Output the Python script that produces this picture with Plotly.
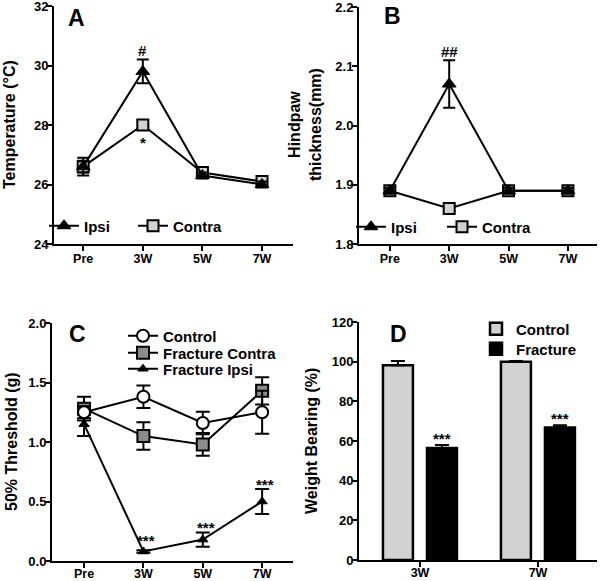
import plotly.graph_objects as go

# ---------------- data ----------------
time_points = ["Pre", "3W", "5W", "7W"]

# Panel A: temperature (°C)
temp_ipsi = [26.6, 29.8, 26.3, 26.0]
temp_ipsi_err = [0.3, 0.4, 0.1, 0.1]
temp_contra = [26.6, 28.0, 26.4, 26.1]
temp_contra_err = [0.2, 0.15, 0.1, 0.1]

# Panel B: hindpaw thickness (mm)
thick_ipsi = [1.89, 2.07, 1.89, 1.89]
thick_ipsi_err = [0.005, 0.04, 0.005, 0.005]
thick_contra = [1.89, 1.86, 1.89, 1.89]
thick_contra_err = [0.005, 0.005, 0.005, 0.005]

# Panel C: 50% threshold (g)
thr_control = [1.25, 1.38, 1.16, 1.25]
thr_control_err = [0.05, 0.095, 0.095, 0.18]
thr_contra = [1.28, 1.05, 0.98, 1.43]
thr_contra_err = [0.1, 0.115, 0.095, 0.115]
thr_ipsi = [1.15, 0.08, 0.18, 0.50]
thr_ipsi_err = [0.1, 0.01, 0.06, 0.105]

# Panel D: weight bearing (%)
wb_weeks = ["3W", "7W"]
wb_control = [98.2, 100.0]
wb_control_err = [2.1, 0.3]
wb_fracture = [56.5, 66.8]
wb_fracture_err = [1.5, 1.2]

# significance marks
sig_A = [("3W", 30.52, "#"), ("3W", 27.4, "*")]
sig_B = [("3W", 2.125, "##")]
sig_C = [("3W", 0.17, "***"), ("5W", 0.28, "***"), ("7W", 0.64, "***")]
sig_D = [("3W", 61.5, "***"), ("7W", 71.5, "***")]

# ---------------- style ----------------
FONT = "Liberation Sans, Arial, sans-serif"
W, H = 600, 581
LIGHT = "#d2d2d2"
MID = "#8c8c8c"


def px_x(p):
    return p / W


def px_y(p):
    return 1 - p / H


fig = go.Figure()

err_style = dict(type="data", color="black", thickness=2, width=6)

# Panel A
fig.add_trace(go.Scatter(
    x=time_points, y=temp_contra, name="Contra", mode="lines+markers",
    line=dict(color="black", width=2),
    marker=dict(symbol="square", size=11, color=LIGHT, line=dict(color="black", width=2)),
    error_y=dict(array=temp_contra_err, **err_style),
    xaxis="x", yaxis="y", legend="legend", legendrank=2))
fig.add_trace(go.Scatter(
    x=time_points, y=temp_ipsi, name="Ipsi", mode="lines+markers",
    line=dict(color="black", width=2),
    marker=dict(symbol="triangle-up", size=12, color="black", line=dict(color="black", width=1)),
    error_y=dict(array=temp_ipsi_err, **err_style),
    xaxis="x", yaxis="y", legend="legend", legendrank=1))

# Panel B
fig.add_trace(go.Scatter(
    x=time_points, y=thick_contra, name="Contra", mode="lines+markers",
    line=dict(color="black", width=2),
    marker=dict(symbol="square", size=11, color=LIGHT, line=dict(color="black", width=2)),
    error_y=dict(array=thick_contra_err, **err_style),
    xaxis="x2", yaxis="y2", legend="legend2", legendrank=2))
fig.add_trace(go.Scatter(
    x=time_points, y=thick_ipsi, name="Ipsi", mode="lines+markers",
    line=dict(color="black", width=2),
    marker=dict(symbol="triangle-up", size=12, color="black", line=dict(color="black", width=1)),
    error_y=dict(array=thick_ipsi_err, **err_style),
    xaxis="x2", yaxis="y2", legend="legend2", legendrank=1))

# Panel C (each series gets its own one-item legend so the rows sit tightly)
err_c = dict(type="data", color="black", thickness=2, width=7)
fig.add_trace(go.Scatter(
    x=time_points, y=thr_ipsi, name="Fracture Ipsi", mode="lines+markers",
    line=dict(color="black", width=2),
    marker=dict(symbol="triangle-up", size=9, color="black", line=dict(color="black", width=1)),
    error_y=dict(array=thr_ipsi_err, **err_c),
    xaxis="x3", yaxis="y3", legend="legend5"))
fig.add_trace(go.Scatter(
    x=time_points, y=thr_contra, name="Fracture Contra", mode="lines+markers",
    line=dict(color="black", width=2),
    marker=dict(symbol="square", size=12, color=MID, line=dict(color="black", width=2)),
    error_y=dict(array=thr_contra_err, **err_c),
    xaxis="x3", yaxis="y3", legend="legend4"))
fig.add_trace(go.Scatter(
    x=time_points, y=thr_control, name="Control", mode="lines+markers",
    line=dict(color="black", width=2),
    marker=dict(symbol="circle", size=12, color="white", line=dict(color="black", width=2)),
    error_y=dict(array=thr_control_err, **err_c),
    xaxis="x3", yaxis="y3", legend="legend3"))

# Panel D
fig.add_trace(go.Bar(
    x=wb_weeks, y=wb_control, name="Control",
    marker=dict(color=LIGHT, line=dict(color="black", width=2.5)),
    offset=-0.314, width=0.254,
    error_y=dict(type="data", symmetric=False, array=wb_control_err,
                 arrayminus=[0] * len(wb_control_err), color="black", thickness=2, width=7),
    xaxis="x4", yaxis="y4", legend="legend6"))
fig.add_trace(go.Bar(
    x=wb_weeks, y=wb_fracture, name="Fracture",
    marker=dict(color="black", line=dict(color="black", width=2.5)),
    offset=0.059, width=0.254,
    error_y=dict(type="data", symmetric=False, array=wb_fracture_err,
                 arrayminus=[0] * len(wb_fracture_err), color="black", thickness=2, width=7),
    xaxis="x4", yaxis="y4", legend="legend7"))

xtickfont = dict(family=FONT, size=12.5, color="black", weight="bold")
ytickfont = dict(family=FONT, size=13, color="black", weight="bold")


def xax(domain, rng, anchor, standoff=-3):
    return dict(domain=domain, range=rng, type="category", anchor=anchor,
                showline=True, linecolor="black", linewidth=2,
                ticks="outside", ticklen=5, tickwidth=2, tickcolor="black",
                ticklabelstandoff=standoff, ticklabeloverflow="allow",
                showgrid=False, zeroline=False, tickfont=xtickfont, fixedrange=True,
                automargin=False)


def yax(domain, rng, dtick, fmt, anchor):
    return dict(domain=domain, range=rng, dtick=dtick, tickformat=fmt, anchor=anchor,
                showline=True, linecolor="black", linewidth=2,
                ticks="outside", ticklen=5, tickwidth=2, tickcolor="black",
                ticklabelstandoff=-4, ticklabeloverflow="allow",
                showgrid=False, zeroline=False, tickfont=ytickfont, fixedrange=True,
                automargin=False)


legfont = dict(family=FONT, size=15, color="black", weight="bold")


def leg(x, y, orientation="v", **kw):
    return dict(orientation=orientation, x=px_x(x), xanchor="left", y=px_y(y), yanchor="middle",
                bgcolor="rgba(0,0,0,0)", font=legfont, traceorder="normal", **kw)


fig.update_layout(
    width=W, height=H,
    margin=dict(l=0, r=0, t=0, b=0, pad=0, autoexpand=False),
    paper_bgcolor="white", plot_bgcolor="white",
    font=dict(family=FONT, color="black"),
    barmode="overlay",
    xaxis=xax([px_x(54), px_x(293)], [-0.49, 3.52], "y"),
    yaxis=yax([px_y(244), px_y(6)], [24, 32], 2, "d", "x"),
    xaxis2=xax([px_x(359), px_x(597)], [-0.52, 3.49], "y2"),
    yaxis2=yax([px_y(244), px_y(7)], [1.8, 2.2], 0.1, ".1f", "x2"),
    xaxis3=xax([px_x(52), px_x(293)], [-0.54, 3.52], "y3", -5),
    yaxis3=yax([px_y(561), px_y(323)], [0, 2], 0.5, ".1f", "x3"),
    xaxis4=xax([px_x(359), px_x(597)], [-0.517, 1.5], "y4", -5),
    yaxis4=yax([px_y(560), px_y(322)], [0, 120], 20, "d", "x4"),
    legend=leg(44, 226, "h", entrywidth=44),
    legend2=leg(351, 227, "h", entrywidth=46),
    legend3=leg(123, 336),
    legend4=leg(123, 353),
    legend5=leg(123, 369),
    legend6=leg(476, 329),
    legend7=leg(476, 349),
    showlegend=True,
)

ann = []
title_font = dict(family=FONT, size=16, color="black", weight="bold")
letter_font = dict(family=FONT, size=23, color="black", weight="bold")
ann.append(dict(text="Temperature (°C)", x=px_x(10), y=px_y(125), textangle=-90, font=title_font))
ann.append(dict(text="Hindpaw<br>thickness(mm)", x=px_x(305), y=px_y(125), textangle=-90, font=title_font))
ann.append(dict(text="50% Threshold (g)", x=px_x(11), y=px_y(442), textangle=-90, font=title_font))
ann.append(dict(text="Weight Bearing (%)", x=px_x(311), y=px_y(441), textangle=-90, font=title_font))
for t, x, y in [("A", 76, 18), ("B", 392, 16), ("C", 77, 334), ("D", 398, 334)]:
    ann.append(dict(text=t, x=px_x(x), y=px_y(y), font=letter_font))
for a in ann:
    a.update(xref="paper", yref="paper", showarrow=False, xanchor="center", yanchor="middle")

sig_font = dict(family=FONT, size=15, color="black", weight="bold")
for (xs, ys, txt), (xr, yr) in (
        [(s, ("x", "y")) for s in sig_A] + [(s, ("x2", "y2")) for s in sig_B]
        + [(s, ("x3", "y3")) for s in sig_C] + [(s, ("x4", "y4")) for s in sig_D]):
    ann.append(dict(text=txt, x=xs, y=ys, xref=xr, yref=yr, showarrow=False,
                    xanchor="center", yanchor="middle", font=sig_font))
# Fracture bars are offset to the right of the category centre in panel D
for a in ann:
    if a.get("xref") == "x4":
        a["xshift"] = 22
    if a.get("xref") == "x3":
        a["xshift"] = 3

fig.update_layout(annotations=ann)
# remove the browser's default 8px body margin so the figure sits at the page origin
fig.write_html("out.html", config={"displayModeBar": False},
               post_script="document.body.style.margin='0px';")
